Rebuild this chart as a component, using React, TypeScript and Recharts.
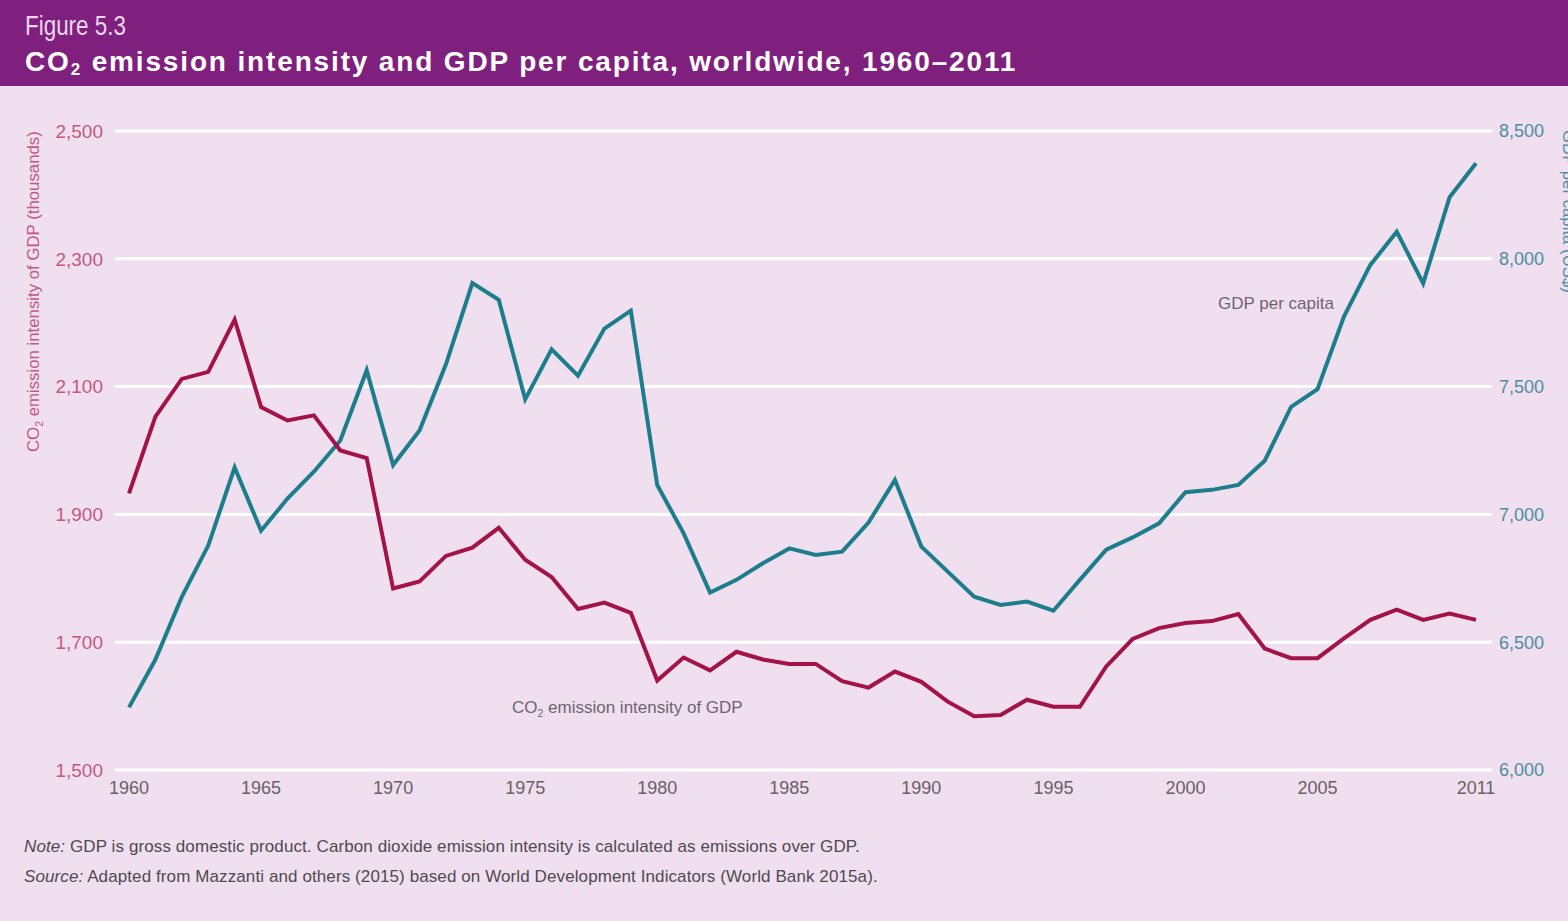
import React from "react";
import { LineChart, Line, XAxis, YAxis, CartesianGrid } from "recharts";

const years: number[] = [
  1960, 1961, 1962, 1963, 1964, 1965, 1966, 1967, 1968, 1969,
  1970, 1971, 1972, 1973, 1974, 1975, 1976, 1977, 1978, 1979,
  1980, 1981, 1982, 1983, 1984, 1985, 1986, 1987, 1988, 1989,
  1990, 1991, 1992, 1993, 1994, 1995, 1996, 1997, 1998, 1999,
  2000, 2001, 2002, 2003, 2004, 2005, 2006, 2007, 2008, 2009,
  2010, 2011,
];

const co2Intensity: number[] = [
  1933, 2053, 2112, 2123, 2205, 2068, 2047, 2055, 2000, 1988,
  1784, 1795, 1835, 1848, 1879, 1829, 1802, 1752, 1762, 1746,
  1640, 1676, 1656, 1685, 1673, 1666, 1666, 1639, 1629, 1654,
  1638, 1607, 1584, 1586, 1610, 1599, 1599, 1662, 1705, 1722,
  1730, 1733, 1744, 1690, 1675, 1675, 1706, 1735, 1751, 1735,
  1745, 1735,
];

const gdpPerCapita: number[] = [
  6245, 6432, 6677, 6878, 7184, 6936, 7062, 7167, 7289, 7564,
  7193, 7328, 7587, 7905, 7840, 7450, 7646, 7543, 7727, 7797,
  7115, 6926, 6694, 6744, 6809, 6867, 6841, 6854, 6968, 7135,
  6874, 6776, 6678, 6646, 6659, 6623, 6744, 6862, 6910, 6965,
  7087, 7096, 7115, 7210, 7421, 7490, 7774, 7976, 8106, 7904,
  8241, 8374,
];

const xTicks: number[] = [1960, 1965, 1970, 1975, 1980, 1985, 1990, 1995, 2000, 2005, 2011];
const leftTicks: number[] = [1500, 1700, 1900, 2100, 2300, 2500];
const rightTicks: number[] = [6000, 6500, 7000, 7500, 8000, 8500];

const data = years.map((year, i) => ({
  year,
  co2: co2Intensity[i],
  gdp: gdpPerCapita[i],
}));

const BG = "#F0DFEF";
const HEADER = "#7F1F7E";
const RED = "#A3134A";
const TEAL = "#1C7E8C";
const FONT = "'Liberation Sans', Arial, sans-serif";

const fmt = (v: number) => v.toLocaleString("en-US");

export default function App() {
  return (
    <div
      style={{
        position: "fixed",
        left: 0,
        top: 0,
        width: 1568,
        height: 921,
        background: BG,
        overflow: "hidden",
        fontFamily: FONT,
      }}
    >
      <div
        style={{
          position: "absolute",
          left: 0,
          top: 0,
          width: 1568,
          height: 86,
          background: HEADER,
        }}
      />
      <div
        style={{
          position: "absolute",
          left: 25,
          top: 10,
          fontFamily: FONT,
          fontSize: 27,
          color: "#EBD6EC",
          lineHeight: "32px",
          whiteSpace: "nowrap",
          transform: "scaleX(0.83)",
          transformOrigin: "left center",
        }}
      >
        Figure 5.3
      </div>
      <div
        style={{
          position: "absolute",
          left: 25,
          top: 45,
          fontFamily: FONT,
          fontWeight: 700,
          fontSize: 28,
          color: "#FFFFFF",
          lineHeight: "34px",
          whiteSpace: "nowrap",
          letterSpacing: 1.85,
        }}
      >
        CO<sub style={{ fontSize: 17, verticalAlign: "-4px" }}>2</sub> emission intensity and GDP per capita, worldwide, 1960–2011
      </div>

      <div style={{ position: "absolute", left: 0, top: 0 }}>
        <LineChart
          width={1568}
          height={921}
          data={data}
          margin={{ top: 131, right: 0, bottom: 121, left: 0 }}
        >
          <CartesianGrid
            yAxisId="left"
            horizontal={true}
            vertical={false}
            stroke="#FFFFFF"
            strokeWidth={3}
          />
          <XAxis
            dataKey="year"
            type="number"
            domain={[1960, 2011]}
            ticks={xTicks}
            padding={{ left: 14, right: 16 }}
            axisLine={false}
            tickLine={false}
            tickSize={0}
            tickMargin={11}
            height={30}
            interval={0}
            tick={{ fill: "#6A6168", fontSize: 18, fontFamily: FONT }}
          />
          <YAxis
            yAxisId="left"
            orientation="left"
            domain={[1500, 2500]}
            ticks={leftTicks}
            width={115}
            axisLine={false}
            tickLine={false}
            tickSize={0}
            tickMargin={12}
            tickFormatter={fmt}
            tick={{ fill: "#C05A82", fontSize: 19, fontFamily: FONT }}
          />
          <YAxis
            yAxisId="right"
            orientation="right"
            domain={[6000, 8500]}
            ticks={rightTicks}
            width={76}
            axisLine={false}
            tickLine={false}
            tickSize={0}
            tickMargin={7}
            tickFormatter={fmt}
            tick={{ fill: "#4B8E9E", fontSize: 18, fontFamily: FONT, textAnchor: "start" }}
          />
          <Line
            yAxisId="right"
            dataKey="gdp"
            type="linear"
            stroke={TEAL}
            strokeWidth={4}
            dot={false}
            isAnimationActive={false}
          />
          <Line
            yAxisId="left"
            dataKey="co2"
            type="linear"
            stroke={RED}
            strokeWidth={4}
            dot={false}
            isAnimationActive={false}
          />
        </LineChart>
      </div>

      <svg
        width={1568}
        height={921}
        style={{ position: "absolute", left: 0, top: 0, pointerEvents: "none" }}
      >
        <text
          transform="translate(39,452) rotate(-90)"
          fontFamily={FONT}
          fontSize={16.8}
          fill="#C05A82"
        >
          CO<tspan fontSize={10.5} dy={4}>2</tspan>
          <tspan dy={-4}> emission intensity of GDP (thousands)</tspan>
        </text>
        <text
          transform="translate(1563,130) rotate(90)"
          fontFamily={FONT}
          fontSize={16.8}
          fill="#4B8E9E"
        >
          GDP per capita (US$)
        </text>
        <text x={1218} y={309} fontFamily={FONT} fontSize={17} fill="#6F6470">
          GDP per capita
        </text>
        <text x={512} y={713} fontFamily={FONT} fontSize={17} fill="#6F6470">
          CO<tspan fontSize={10.5} dy={4}>2</tspan>
          <tspan dy={-4}> emission intensity of GDP</tspan>
        </text>
      </svg>

      <div
        style={{
          position: "absolute",
          left: 24,
          top: 832,
          fontFamily: FONT,
          fontSize: 17,
          color: "#4F4A50",
          lineHeight: "30px",
          whiteSpace: "nowrap",
          letterSpacing: 0.1,
        }}
      >
        <div>
          <i>Note:</i> GDP is gross domestic product. Carbon dioxide emission intensity is calculated as emissions over GDP.
        </div>
        <div>
          <i>Source:</i> Adapted from Mazzanti and others (2015) based on World Development Indicators (World Bank 2015a).
        </div>
      </div>
    </div>
  );
}
